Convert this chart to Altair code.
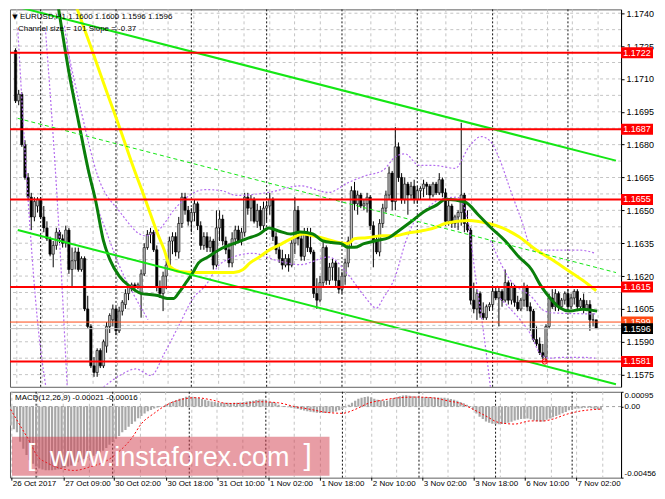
import altair as alt
import pandas as pd
import numpy as np

FONT = "Liberation Sans"
W, H1, H2 = 612, 378, 86
XDOM = [-0.18, 191.33]
YDOM = [1.156945, 1.174176]
MDOM = [-0.00456, 0.00095]

# ---------------- EURUSD H1 candles (price x 10000) ----------------
opens = [11723,11700,11703,11680,11665,11656,11647,11652,11655,11647,
         11642,11637,11630,11634,11640,11637,11635,11641,11623,11627,
         11631,11623,11628,11605,11597,11579,11576,11586,11579,11588,
         11597,11600,11605,11595,11604,11607,11612,11615,11616,11615,
         11612,11621,11633,11639,11640,11632,11615,11612,11620,11625,
         11636,11638,11631,11644,11656,11650,11645,11649,11653,11643,
         11634,11638,11633,11636,11625,11642,11646,11636,11632,11626,
         11637,11641,11636,11640,11656,11651,11655,11645,11650,11643,
         11651,11652,11655,11638,11632,11628,11625,11628,11625,11635,
         11650,11637,11629,11640,11633,11631,11612,11609,11617,11633,
         11618,11624,11626,11618,11614,11620,11626,11636,11659,11653,
         11657,11652,11653,11656,11643,11636,11631,11644,11651,11657,
         11667,11654,11679,11665,11655,11662,11657,11661,11655,11659,
         11660,11662,11661,11657,11662,11658,11664,11658,11645,11652,
         11644,11647,11649,11657,11644,11641,11609,11605,11612,11603,
         11601,11606,11607,11613,11610,11613,11609,11617,11609,11615,
         11608,11605,11609,11615,11606,11604,11591,11589,11585,11583,
         11597,11610,11606,11612,11606,11609,11612,11606,11610,11613,
         11606,11609,11605,11607,11600,11600]
highs = [11724,11705,11704,11682,11667,11658,11656,11656,11656,11652,
         11645,11638,11636,11642,11641,11639,11643,11642,11633,11633,
         11633,11629,11629,11611,11598,11583,11587,11587,11591,11599,
         11603,11607,11606,11606,11609,11614,11616,11617,11617,11617,
         11623,11635,11641,11642,11641,11634,11618,11622,11627,11638,
         11640,11640,11647,11658,11658,11652,11651,11655,11654,11645,
         11640,11640,11638,11637,11650,11650,11648,11638,11635,11640,
         11643,11643,11642,11658,11658,11657,11656,11653,11652,11654,
         11654,11658,11656,11640,11635,11632,11630,11630,11637,11656,
         11652,11640,11642,11642,11642,11632,11619,11620,11636,11634,
         11626,11628,11627,11624,11622,11628,11638,11661,11663,11659,
         11658,11655,11658,11657,11645,11638,11646,11653,11659,11670,
         11668,11688,11681,11667,11665,11663,11663,11664,11661,11661,
         11664,11663,11662,11663,11663,11667,11665,11660,11655,11653,
         11648,11650,11690,11658,11650,11642,11617,11614,11613,11608,
         11607,11608,11615,11615,11615,11614,11623,11618,11617,11616,
         11611,11610,11617,11616,11608,11605,11597,11592,11589,11598,
         11612,11614,11614,11613,11610,11613,11614,11612,11614,11614,
         11610,11612,11609,11609,11603,11600]
lows = [11699,11698,11679,11664,11655,11641,11645,11649,11646,11640,
        11636,11629,11624,11632,11635,11633,11633,11621,11615,11623,
        11622,11622,11604,11596,11578,11574,11574,11578,11578,11585,
        11594,11597,11593,11594,11602,11605,11609,11613,11613,11614,
        11601,11620,11632,11635,11631,11613,11610,11604,11614,11623,
        11630,11629,11628,11642,11648,11643,11640,11645,11641,11632,
        11632,11631,11631,11623,11624,11636,11634,11630,11624,11624,
        11634,11635,11634,11638,11648,11645,11644,11642,11641,11641,
        11645,11648,11636,11630,11626,11623,11624,11622,11624,11630,
        11634,11627,11627,11631,11630,11610,11605,11608,11615,11616,
        11616,11618,11615,11612,11612,11616,11624,11633,11650,11648,
        11651,11650,11649,11641,11624,11630,11629,11642,11649,11655,
        11650,11650,11663,11653,11653,11648,11655,11653,11653,11655,
        11656,11657,11655,11656,11657,11657,11656,11643,11643,11642,
        11642,11641,11643,11640,11640,11607,11603,11600,11601,11600,
        11600,11604,11605,11609,11597,11606,11608,11607,11607,11606,
        11604,11604,11606,11604,11595,11590,11588,11584,11582,11581,
        11596,11605,11604,11604,11605,11607,11604,11605,11607,11604,
        11605,11603,11604,11595,11597,11596]
closes = [11700,11703,11680,11665,11656,11647,11654,11655,11647,11642,
          11637,11630,11634,11640,11637,11635,11641,11623,11627,11631,
          11623,11628,11605,11597,11579,11576,11586,11579,11590,11597,
          11602,11605,11595,11604,11608,11612,11615,11616,11615,11616,
          11621,11633,11639,11640,11632,11615,11612,11620,11625,11636,
          11638,11631,11644,11656,11650,11645,11649,11653,11643,11634,
          11638,11633,11636,11625,11642,11646,11636,11632,11626,11637,
          11641,11636,11640,11656,11651,11655,11645,11650,11643,11651,
          11652,11655,11638,11632,11628,11625,11628,11625,11635,11650,
          11637,11629,11640,11633,11631,11612,11609,11617,11633,11618,
          11624,11626,11618,11614,11620,11626,11636,11659,11653,11657,
          11652,11653,11656,11643,11636,11631,11644,11651,11657,11667,
          11654,11679,11665,11655,11662,11657,11661,11655,11659,11660,
          11662,11661,11657,11662,11658,11664,11658,11645,11652,11644,
          11647,11649,11657,11644,11641,11609,11605,11612,11603,11601,
          11606,11607,11613,11610,11613,11609,11617,11609,11615,11608,
          11605,11609,11615,11606,11604,11591,11589,11585,11583,11597,
          11610,11606,11612,11606,11609,11612,11606,11610,11613,11606,
          11609,11605,11607,11600,11600,11596]

# ---------------- moving averages ----------------
green_i = [13.5,17.1,20.1,23.2,25.6,28.0,30.1,33.1,36.2,40.1,45.3,48.3,50.4,52.2,54.4,56.5,58.3,61.3,65.6,69.5,
           73.5,77.7,80.7,83.8,87.7,90.7,94.7,97.7,100.7,103.8,105.9,108.0,111.0,115.0,118.9,122.0,126.2,130.1,134.1,137.1,
           143.2,147.4,151.3,155.9,160.4,164.4,167.4,170.4,173.5,176.5,180.7,185.3]
green_p = [1.17440,1.17123,1.16903,1.16683,1.16538,1.16362,1.16274,1.16199,1.16155,1.16120,1.16111,1.16098,1.16098,1.16128,1.16172,1.16216,1.16260,1.16287,1.16326,1.16348,
           1.16370,1.16392,1.16419,1.16406,1.16392,1.16401,1.16392,1.16362,1.16353,1.16348,1.16331,1.16331,1.16348,1.16362,1.16375,1.16406,1.16450,1.16494,1.16524,1.16551,
           1.16538,1.16480,1.16423,1.16362,1.16287,1.16230,1.16155,1.16098,1.16054,1.16040,1.16049,1.16040]
yellow_i = [18.6,24.1,29.2,33.2,37.1,41.3,45.3,47.4,49.2,52.2,57.4,63.5,69.5,72.5,74.7,77.7,80.7,83.8,87.7,91.6,
            94.7,98.9,102.9,105.9,108.0,111.9,117.1,121.0,125.0,129.2,133.2,137.1,144.4,150.4,155.3,160.4,165.6,171.0,175.6,180.7,185.0]
yellow_p = [1.17460,1.17242,1.17035,1.16876,1.16714,1.16551,1.16392,1.16318,1.16243,1.16221,1.16216,1.16216,1.16216,1.16230,1.16260,1.16287,1.16318,1.16340,1.16370,1.16392,
            1.16384,1.16370,1.16353,1.16348,1.16370,1.16375,1.16384,1.16384,1.16397,1.16406,1.16419,1.16441,1.16454,1.16441,1.16419,1.16379,1.16322,1.16274,1.16230,1.16181,1.16133]

# ---------------- purple dotted bands ----------------
b1_i = [0.7, 4.4, 6.8, 9.8]
b1_p = [1.17330, 1.16463, 1.16023, 1.15680]
b2_i = [9.5, 13.5, 16.5]
b2_p = [1.17330, 1.16494, 1.15680]
b3_i = [15.6, 20.1, 24.1, 29.2, 33.2, 38.3, 42.2]
b3_p = [1.17343, 1.16903, 1.16612, 1.16392, 1.16243, 1.16098, 1.16001]
b4_i = [16.5,21.0,26.2,33.2,41.3,45.3,51.3,60.4,65.6,70.4,80.7,90.7,99.8,105.9,111.0,117.1,121.0,124.1,128.6,133.2,
        140.1,144.4,148.3,151.3,154.4,157.4,161.0,165.0,169.5,174.1,180.1,184.7]
b4_p = [1.17242,1.16947,1.16656,1.16494,1.16384,1.16406,1.16516,1.16595,1.16590,1.16568,1.16582,1.16612,1.16582,1.16626,1.16656,1.16683,1.16744,1.16758,1.16705,1.16705,
        1.16692,1.16788,1.16837,1.16815,1.16727,1.16604,1.16463,1.16318,1.16318,1.16318,1.16318,1.16304]
b5_i = [28.0,33.2,38.3,43.2,47.4,52.2,56.5,60.4,65.6,75.6,82.6,90.7,99.8,105.9,111.0,115.0,117.1,121.0,124.1,127.1,
        131.0,135.3,140.7,143.8,146.8,148.9,151.3]
b5_p = [1.15693,1.15746,1.15776,1.15746,1.15847,1.15979,1.16098,1.16155,1.16260,1.16304,1.16274,1.16252,1.16287,1.16208,1.16111,1.16054,1.16098,1.16199,1.16348,1.16450,
        1.16507,1.16551,1.16560,1.16472,1.16172,1.15966,1.15693]
b6_i = [154.4, 157.4, 161.0, 164.1, 167.1, 170.1, 174.1, 180.1, 184.7]
b6_p = [1.16098, 1.16054, 1.15996, 1.15935, 1.15847, 1.15825, 1.15829, 1.15829, 1.15825]
b7_i = [151.3, 157.4, 164.9, 168.0, 171.0, 184.7]
b7_p = [1.16362, 1.16186, 1.16098, 1.16045, 1.16032, 1.16027]

# ---------------- channel (two anchor points per line) ----------------
chan_i = [0.7, 191.3]
chan_upper = [1.17429, 1.16727]
chan_mid = [1.16920, 1.16216]
chan_lower = [1.16410, 1.15706]

levels = [1.1722, 1.1687, 1.1655, 1.1615, 1.1581]
ask_level = 1.1599
bid_level = 1.1596
low_mark_i = [168.6]
low_mark_p = [1.1581]

price_ticks = [1.1575, 1.1590, 1.1605, 1.1620, 1.1635, 1.1650, 1.1665, 1.1680, 1.1695, 1.1710, 1.1725, 1.1740]
hgrid = [1.15750, 1.15825, 1.15900, 1.15975, 1.16050, 1.16125, 1.16200, 1.16275, 1.16350, 1.16425, 1.16500, 1.16575,
         1.16650, 1.16725, 1.16800, 1.16875, 1.16950, 1.17025, 1.17100, 1.17175, 1.17250, 1.17325, 1.17400]
vgrid = [0.4, 8.5, 16.5, 24.7, 32.5, 40.7, 48.6, 56.8, 64.7, 72.8, 81.0, 88.9, 97.1, 105.0, 113.2, 121.0,
         129.2, 137.1, 145.3, 153.5, 161.3, 169.5, 177.4, 185.6]
day_sep = [8, 32, 56, 80, 104, 128, 152, 176]
time_pos = [0.4, 16.8, 32.5, 48.9, 65.0, 81.0, 97.1, 113.2, 129.2, 145.3, 161.3, 177.4]
time_lab = ["26 Oct 2017", "27 Oct 09:00", "30 Oct 02:00", "30 Oct 18:00", "31 Oct 10:00", "1 Nov 02:00",
            "1 Nov 18:00", "2 Nov 10:00", "3 Nov 02:00", "3 Nov 18:00", "6 Nov 10:00", "7 Nov 02:00"]

# ---------------- MACD (units of 1e-5) ----------------
macd_hist = [-122,-145,-165,-225,-270,-310,-345,-367,-385,-398,
             -404,-408,-408,-408,-406,-402,-398,-393,-385,-378,
             -368,-357,-346,-337,-330,-322,-316,-305,-295,-283,
             -265,-245,-225,-206,-188,-165,-150,-130,-112,-95,
             -75,-60,-45,-30,-22,-12,-6,-2,2,15,
             27,35,43,50,55,63,65,63,60,55,
             48,44,38,33,30,27,25,24,24,23,
             24,24,27,30,33,36,38,42,45,45,
             40,33,30,24,12,4,-2,-5,-7,-12,
             -16,-20,-25,-30,-33,-37,-40,-41,-41,-41,
             -40,-36,-32,-24,-15,-6,12,25,38,50,
             56,62,65,60,50,44,40,38,37,45,
             55,62,67,71,72,70,67,65,63,62,
             61,61,60,59,58,57,56,52,48,44,
             38,30,22,12,4,-20,-45,-65,-80,-95,
             -103,-110,-113,-114,-112,-108,-104,-98,-90,-85,
             -80,-78,-77,-82,-90,-94,-98,-95,-85,-76,
             -68,-60,-52,-42,-34,-24,-18,-14,-12,-10,
             -8,-7,-10,-15,-18,-21]
sig_i = [0,3,6,8,12,16,20,25,30,34,38,41,45,49,53,58,63,68,73,78,84,89,94,99,104,108,112,117,122,127,132,137,141,145,149,153,158,163,167,170,174,178,185]
sig_v = [-18,-122,-226,-306,-367,-398,-410,-386,-349,-288,-202,-110,-43,12,43,57,43,20,20,31,24,0,-18,-37,-43,-18,20,43,57,61,57,37,20,-18,-61,-102,-112,-92,-92,-80,-51,-31,-16]

# ---------------- tables ----------------
n = len(opens)
cd = pd.DataFrame({"i": np.arange(n), "o": np.array(opens) / 1e4, "h": np.array(highs) / 1e4,
                   "l": np.array(lows) / 1e4, "c": np.array(closes) / 1e4})
cd["top"] = cd[["o", "c"]].max(axis=1)
cd["bot"] = cd[["o", "c"]].min(axis=1)
cd["fill"] = np.where(cd["c"] >= cd["o"], "#b8b8b8", "#000000")

ma = pd.concat([pd.DataFrame({"s": "g", "i": green_i, "p": green_p}),
                pd.DataFrame({"s": "y", "i": yellow_i, "p": yellow_p})])
bands = pd.concat([pd.DataFrame({"s": k, "i": a, "p": b}) for k, a, b in
                   [("b1", b1_i, b1_p), ("b2", b2_i, b2_p), ("b3", b3_i, b3_p), ("b4", b4_i, b4_p),
                    ("b5", b5_i, b5_p), ("b6", b6_i, b6_p), ("b7", b7_i, b7_p)]])
chan_solid = pd.concat([pd.DataFrame({"s": "u", "i": chan_i, "p": chan_upper}),
                        pd.DataFrame({"s": "l", "i": chan_i, "p": chan_lower})])
chan_dash = pd.DataFrame({"i": chan_i, "p": chan_mid})

xs = alt.Scale(domain=XDOM, nice=False, zero=False)
ys = alt.Scale(domain=YDOM, nice=False, zero=False)
ms = alt.Scale(domain=MDOM, nice=False, zero=False)

YAX = alt.Axis(orient="right", values=price_ticks, format=".4f", title=None, grid=False,
               labelFont=FONT, labelFontSize=9, labelColor="#000", tickColor="#000", tickSize=3,
               domainColor="#000", labelPadding=2, labelOverlap=False, labelBound=False, labelFlush=False)
MAX = alt.Axis(orient="right", values=[0.00095, 0, -0.00456], title=None, grid=False,
               labelExpr="datum.value == 0 ? '0.00' : (datum.value > 0 ? '0.00095' : '-0.00456')",
               labelFont=FONT, labelFontSize=8, labelColor="#000", tickColor="#000", tickSize=2,
               domainColor="#000", labelPadding=1, labelFlush=True, labelOverlap=False)


def X(f):
    return alt.X(f, type="quantitative", scale=xs, axis=None)


def Y(f):
    return alt.Y(f, type="quantitative", scale=ys, axis=YAX)


def M(f):
    return alt.Y(f, type="quantitative", scale=ms, axis=MAX)


hg = alt.Chart(pd.DataFrame({"p": hgrid})).mark_rule(color="#c4c4c4", strokeDash=[3, 3], strokeWidth=1).encode(y=Y("p"))
vg_df = pd.DataFrame({"i": vgrid})
vg = alt.Chart(vg_df).mark_rule(color="#c4c4c4", strokeDash=[3, 3], strokeWidth=1).encode(x=X("i"))
ds_df = pd.DataFrame({"i": day_sep})
ds = alt.Chart(ds_df).mark_rule(color="#111", strokeDash=[2, 2], strokeWidth=1).encode(x=X("i"))

wick = alt.Chart(cd).mark_rule(color="#000", strokeWidth=1, clip=True).encode(
    x=X("i"), y=Y("l"), y2=alt.Y2("h"))
body = alt.Chart(cd).mark_bar(size=2.3, stroke="#000", strokeWidth=0.6, clip=True).encode(
    x=X("i"), y=Y("top"), y2=alt.Y2("bot"), color=alt.Color("fill:N", scale=None))

band_l = alt.Chart(bands).mark_line(color="#b46cef", strokeDash=[2, 2], strokeWidth=1.2, clip=True,
                                    interpolate="monotone").encode(x=X("i"), y=Y("p"), detail="s:N")
yel = alt.Chart(ma[ma.s == "y"]).mark_line(color="#ffff00", strokeWidth=3, clip=True,
                                          interpolate="monotone").encode(x=X("i"), y=Y("p"))
grn = alt.Chart(ma[ma.s == "g"]).mark_line(color="#0a7f0a", strokeWidth=3, clip=True,
                                          interpolate="monotone").encode(x=X("i"), y=Y("p"))
ch1 = alt.Chart(chan_solid).mark_line(color="#14e614", strokeWidth=2, clip=True).encode(
    x=X("i"), y=Y("p"), detail="s:N")
ch2 = alt.Chart(chan_dash).mark_line(color="#14e614", strokeWidth=1, strokeDash=[4, 3], clip=True).encode(
    x=X("i"), y=Y("p"))

lv = alt.Chart(pd.DataFrame({"p": levels})).mark_rule(color="#ff0000", strokeWidth=2).encode(y=Y("p"))
ask = alt.Chart(pd.DataFrame({"p": [ask_level]})).mark_rule(color="#ff4a14", strokeWidth=1).encode(y=Y("p"))
bid = alt.Chart(pd.DataFrame({"p": [bid_level]})).mark_rule(color="#c0c0c0", strokeWidth=1).encode(y=Y("p"))
lowm = alt.Chart(pd.DataFrame({"i": low_mark_i, "p": low_mark_p})).mark_point(
    shape="circle", size=28, color="#ff0000", filled=False, strokeWidth=1, opacity=1).encode(x=X("i"), y=Y("p"))

box_df = pd.DataFrame({"p": levels + [ask_level],
                       "lab": ["%.4f" % v for v in levels] + ["%.4f" % ask_level],
                       "bg": ["#ff0000"] * len(levels) + ["#ff4a14"]})
bid_df = pd.DataFrame({"p": [bid_level], "lab": ["%.4f" % bid_level], "bg": ["#000000"]})


def boxes(df):
    b = alt.Chart(df).mark_tick(orient="horizontal", size=32, thickness=11, opacity=1).encode(
        x=alt.value(W + 16), y=Y("p"), color=alt.Color("bg:N", scale=None))
    t = alt.Chart(df).mark_text(font=FONT, fontSize=9, color="#ffffff", align="center", baseline="middle").encode(
        x=alt.value(W + 16), y=Y("p"), text="lab:N")
    return [b, t]


title_df = pd.DataFrame({"t": ["EURUSD,H1  1.1600 1.1600 1.1596 1.1596"]})
tri = alt.Chart(pd.DataFrame({"t": ["\u25BC"]})).mark_text(font="DejaVu Sans", fontSize=7, color="#000",
                                                          align="center", baseline="middle").encode(
    x=alt.value(5), y=alt.value(8), text="t:N")
ttl = alt.Chart(title_df).mark_text(font=FONT, fontSize=8, color="#000", align="left", baseline="middle").encode(
    x=alt.value(10), y=alt.value(8), text="t:N")
chinfo = alt.Chart(pd.DataFrame({"t": ["Channel size = 101  Slope = -0.37"]})).mark_text(
    font=FONT, fontSize=8, color="#000", align="left", baseline="middle").encode(
    x=alt.value(8), y=alt.value(19.5), text="t:N")

main = alt.layer(hg, vg, ds, wick, body, band_l, yel, grn, ch2, ch1, lv, ask, bid, lowm,
                 *boxes(box_df), *boxes(bid_df), tri, ttl, chinfo).properties(width=W, height=H1)

# ---------------- MACD panel ----------------
md = pd.DataFrame({"i": np.arange(n), "v": np.array(macd_hist) / 1e5, "z": 0.0})
sd = pd.DataFrame({"i": sig_i, "v": np.array(sig_v) / 1e5})

mvg = alt.Chart(vg_df).mark_rule(color="#c4c4c4", strokeDash=[3, 3], strokeWidth=1).encode(x=X("i"))
mds = alt.Chart(ds_df).mark_rule(color="#111", strokeDash=[2, 2], strokeWidth=1).encode(x=X("i"))
zero = alt.Chart(pd.DataFrame({"v": [0.0]})).mark_rule(color="#a0a0a0", strokeDash=[3, 3], strokeWidth=1).encode(y=M("v"))
hist = alt.Chart(md).mark_rule(color="#a8a8a8", strokeWidth=2.2, clip=True).encode(x=X("i"), y=M("v"), y2=alt.Y2("z"))
sig = alt.Chart(sd).mark_line(color="#ff0000", strokeDash=[2, 2], strokeWidth=1, clip=True,
                              interpolate="monotone").encode(x=X("i"), y=M("v"))

wm_df = pd.DataFrame({"t": ["www.instaforex.com"]})
wm_rect = alt.Chart(wm_df).mark_rect(color="#d23c4b", opacity=0.5).encode(
    x=alt.value(2), x2=alt.value(320), y=alt.value(45), y2=alt.value(84))
wm_txt = alt.Chart(wm_df).mark_text(font=FONT, fontSize=27, color="#ffffff", align="left", baseline="middle").encode(
    x=alt.value(40), y=alt.value(66), text="t:N")
wm_l = alt.Chart(pd.DataFrame({"t": ["["]})).mark_text(font=FONT, fontSize=30, color="#ffffff", align="left",
                                                       baseline="middle").encode(x=alt.value(17), y=alt.value(64), text="t:N")
wm_r = alt.Chart(pd.DataFrame({"t": ["]"]})).mark_text(font=FONT, fontSize=30, color="#ffffff", align="left",
                                                       baseline="middle").encode(x=alt.value(294), y=alt.value(64), text="t:N")
mlab = alt.Chart(pd.DataFrame({"t": ["MACD(12,26,9) -0.00021 -0.00016"]})).mark_text(
    font=FONT, fontSize=8, color="#000", align="left", baseline="middle").encode(
    x=alt.value(5), y=alt.value(6), text="t:N")

tl_df = pd.DataFrame({"i": time_pos, "t": time_lab})
tticks = alt.Chart(tl_df).mark_rule(color="#000", strokeWidth=1).encode(
    x=X("i"), y=alt.value(H2), y2=alt.value(H2 + 3))
tlabs = alt.Chart(tl_df).mark_text(font=FONT, fontSize=8, color="#000", align="left", baseline="top", dx=1).encode(
    x=X("i"), y=alt.value(H2 + 2), text="t:N")

macd = alt.layer(mvg, mds, zero, hist, sig, wm_rect, wm_txt, wm_l, wm_r, mlab, tticks, tlabs).properties(
    width=W, height=H2)

chart = alt.vconcat(main, macd, spacing=3).properties(padding=0, background="#ffffff").configure_view(
    stroke="#606060", strokeWidth=1)

chart.save("out.html", embed_options={"renderer": "svg", "actions": False})
